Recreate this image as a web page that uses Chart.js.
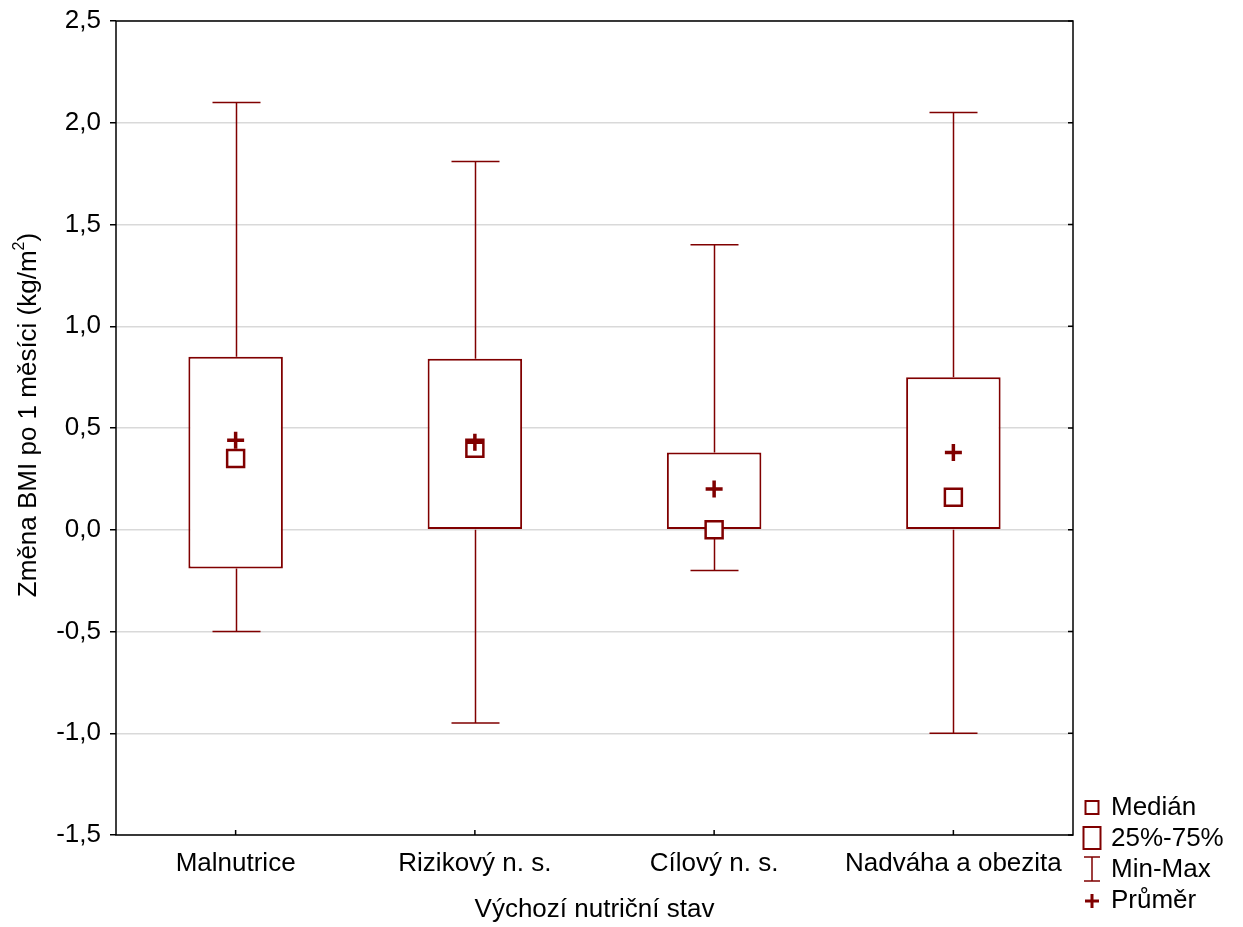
<!DOCTYPE html>
<html>
<head>
<meta charset="utf-8">
<script src="https://cdn.jsdelivr.net/npm/chart.js@4.4.1/dist/chart.umd.min.js"></script>
<style>
  html, body { margin: 0; padding: 0; background: #fff; }
  #wrap { width: 1243px; height: 927px; }
</style>
</head>
<body>
<div id="wrap"><canvas id="c" width="1243" height="927"></canvas></div>
<script>
// box plot values
const categories = ['Malnutrice', 'Rizikový n. s.', 'Cílový n. s.', 'Nadváha a obezita'];
const mins = [-0.5, -0.95, -0.2, -1.0];
const q1s = [-0.19, 0.0, 0.0, 0.0];
const medians = [0.35, 0.4, 0.0, 0.16];
const means = [0.44, 0.43, 0.2, 0.38];
const q3s = [0.85, 0.84, 0.38, 0.75];
const maxs = [2.1, 1.81, 1.4, 2.05];

const RED = '#800000';
const FONT = "'Liberation Sans', Arial, sans-serif";
const FS = 26;

function fmt(v) {
    return Number(v).toFixed(1).replace('.', ',');
}

// whiskers + caps, drawn under the boxes
const whiskers = {
    id: 'whiskers',
    beforeDatasetsDraw(chart) {
        const { ctx, scales: { x, y } } = chart;
        const capHalf = 24;
        ctx.save();
        ctx.strokeStyle = RED;
        ctx.lineWidth = 1.5;
        categories.forEach((_, i) => {
            const cx = Math.round(x.getPixelForValue(i)) + 0.5;
            const yMin = y.getPixelForValue(mins[i]);
            const yMax = y.getPixelForValue(maxs[i]);
            const yQ1 = y.getPixelForValue(q1s[i]);
            const yQ3 = y.getPixelForValue(q3s[i]);
            ctx.beginPath();
            ctx.moveTo(cx, yMax); ctx.lineTo(cx, yQ3);
            ctx.moveTo(cx, yQ1); ctx.lineTo(cx, yMin);
            ctx.moveTo(cx - capHalf, yMax); ctx.lineTo(cx + capHalf, yMax);
            ctx.moveTo(cx - capHalf, yMin); ctx.lineTo(cx + capHalf, yMin);
            ctx.stroke();
        });
        ctx.restore();
    }
};

// frame, inner ticks, y title with superscript and legend
const frame = {
    id: 'frame',
    afterDraw(chart) {
        const { ctx, chartArea: a, scales: { x, y } } = chart;
        ctx.save();
        ctx.strokeStyle = '#000';
        ctx.lineWidth = 1.5;
        ctx.strokeRect(a.left, a.top, a.right - a.left, a.bottom - a.top);
        ctx.beginPath();
        y.ticks.forEach((t, i) => {
            const py = y.getPixelForTick(i);
            ctx.moveTo(a.right, py); ctx.lineTo(a.right - 5, py);
        });
        x.ticks.forEach((t, i) => {
            const px = x.getPixelForTick(i);
            ctx.moveTo(px, a.bottom); ctx.lineTo(px, a.bottom - 5);
        });
        ctx.stroke();

        // y title
        const main = 'Změna BMI po 1 měsíci (kg/m';
        const sup = '2';
        const tail = ')';
        ctx.fillStyle = '#000';
        ctx.font = FS + 'px ' + FONT;
        const w1 = ctx.measureText(main).width;
        const w3 = ctx.measureText(tail).width;
        ctx.font = Math.round(FS * 0.62) + 'px ' + FONT;
        const w2 = ctx.measureText(sup).width;
        const total = w1 + w2 + w3;
        ctx.translate(29, 415);
        ctx.rotate(-Math.PI / 2);
        ctx.textBaseline = 'middle';
        ctx.textAlign = 'left';
        ctx.font = FS + 'px ' + FONT;
        ctx.fillText(main, -total / 2, 0);
        ctx.font = Math.round(FS * 0.62) + 'px ' + FONT;
        ctx.fillText(sup, -total / 2 + w1, -9);
        ctx.font = FS + 'px ' + FONT;
        ctx.fillText(tail, -total / 2 + w1 + w2, 0);
        ctx.setTransform(1, 0, 0, 1, 0, 0);

        // legend
        const sx = 1092, tx = 1111;
        ctx.strokeStyle = RED;
        ctx.fillStyle = RED;
        ctx.lineWidth = 2;
        ctx.strokeRect(sx - 6.5, 801, 13, 13);
        ctx.strokeRect(sx - 8.5, 827, 17, 22);
        ctx.lineWidth = 1.5;
        ctx.beginPath();
        ctx.moveTo(sx, 857); ctx.lineTo(sx, 881);
        ctx.moveTo(sx - 8, 857); ctx.lineTo(sx + 8, 857);
        ctx.moveTo(sx - 8, 881); ctx.lineTo(sx + 8, 881);
        ctx.stroke();
        ctx.lineWidth = 3;
        ctx.beginPath();
        ctx.moveTo(sx - 7, 901); ctx.lineTo(sx + 7, 901);
        ctx.moveTo(sx, 894); ctx.lineTo(sx, 908);
        ctx.stroke();

        ctx.fillStyle = '#000';
        ctx.font = FS + 'px ' + FONT;
        ctx.textBaseline = 'middle';
        ctx.textAlign = 'left';
        ctx.fillText('Medián', tx, 808);
        ctx.fillText('25%-75%', tx, 839);
        ctx.fillText('Min-Max', tx, 870);
        ctx.fillText('Průměr', tx, 901);
        ctx.restore();
    }
};

new Chart(document.getElementById('c'), {
    type: 'bar',
    data: {
        labels: categories,
        datasets: [
            {
                label: 'Průměr',
                type: 'line',
                data: means,
                showLine: false,
                pointStyle: 'cross',
                pointRadius: 8.5,
                pointBorderWidth: 3.5,
                pointBorderColor: RED,
                order: 1
            },
            {
                label: 'Medián',
                type: 'line',
                data: medians,
                showLine: false,
                pointStyle: 'rect',
                pointRadius: 12,
                pointBorderWidth: 2.5,
                pointBorderColor: RED,
                pointBackgroundColor: '#fff',
                order: 2
            },
            {
                label: '25%-75%',
                data: q1s.map((v, i) => [v, q3s[i]]),
                backgroundColor: '#fff',
                borderColor: RED,
                borderWidth: 2,
                borderSkipped: false,
                barPercentage: 0.395,
                categoryPercentage: 1,
                order: 3
            }
        ]
    },
    options: {
        responsive: false,
        animation: false,
        layout: { padding: { top: 21, right: 170, left: 0, bottom: 0 } },
        plugins: {
            legend: { display: false },
            tooltip: { enabled: false }
        },
        scales: {
            x: {
                grid: { display: false },
                border: { display: false },
                ticks: { color: '#000', padding: 5, font: { family: FONT, size: FS } },
                title: {
                    display: true,
                    text: 'Výchozí nutriční stav',
                    color: '#000',
                    padding: { top: 8, bottom: 2 },
                    font: { family: FONT, size: FS }
                },
                afterFit: (s) => { s.height = 92; }
            },
            y: {
                min: -1.5,
                max: 2.5,
                grid: { color: '#d9d9d9', lineWidth: 1.5, tickLength: 6, tickColor: '#000' },
                border: { display: false },
                ticks: {
                    stepSize: 0.5,
                    color: '#000',
                    padding: 9,
                    font: { family: FONT, size: FS, lineHeight: 0.6 },
                    callback: (v) => fmt(v)
                },
                afterFit: (s) => { s.width = 116; }
            }
        }
    },
    plugins: [whiskers, frame]
});
</script>
</body>
</html>
